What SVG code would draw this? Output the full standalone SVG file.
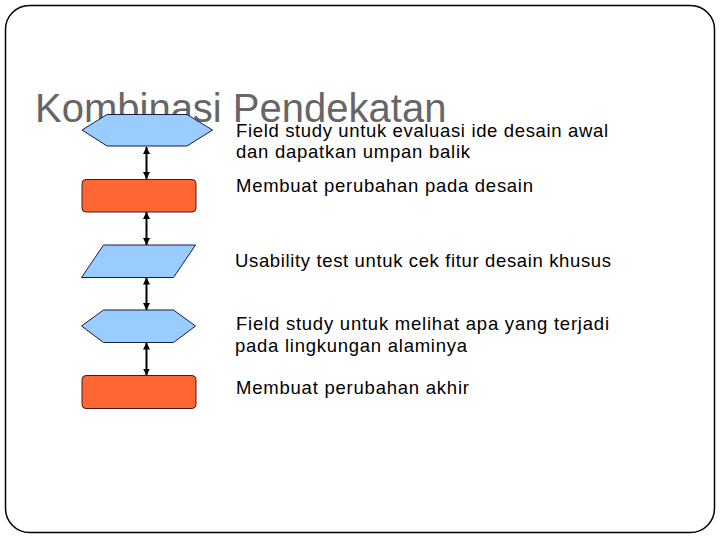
<svg xmlns="http://www.w3.org/2000/svg" width="720" height="540" viewBox="0 0 720 540">
<style>
.frame{fill:#fff;stroke:#000;stroke-width:1.5}
.title{font-family:"Liberation Sans",Arial,sans-serif;font-size:40px;fill:#666}
.lbl{font-family:"Liberation Sans",Arial,sans-serif;font-size:18.5px;fill:#000}
.blue{fill:#99CCFF;stroke:#1a1a40;stroke-width:1}
.orange{fill:#FF6633;stroke:#4a1a10;stroke-width:1}
.conn{stroke:#000;stroke-width:2;fill:none;marker-start:url(#ah);marker-end:url(#ah)}
</style>
<defs>
<marker id="ah" viewBox="0 0 10 10" refX="10" refY="5" markerWidth="3.5" markerHeight="3.5" orient="auto-start-reverse" markerUnits="strokeWidth">
<path d="M0,0 L10,5 L0,10 Z" fill="#000"/>
</marker>
</defs>
<rect class="frame" x="5.5" y="5.5" width="709" height="527" rx="24" ry="24"/>
<text class="title" x="35" y="122">Kombinasi Pendekatan</text>
<g id="connectors">
<line class="conn" x1="146.5" y1="147" x2="146.5" y2="179"/>
<line class="conn" x1="146.5" y1="212" x2="146.5" y2="245"/>
<line class="conn" x1="146.5" y1="277.5" x2="146.5" y2="310"/>
<line class="conn" x1="146.5" y1="342.5" x2="146.5" y2="375.5"/>
</g>
<g id="node1">
<polygon class="blue" points="82,130 107,114.5 187,114.5 212.5,130 187,146 107,146"/>
<text class="lbl" x="236" y="136.5" textLength="372" lengthAdjust="spacing">Field study untuk evaluasi ide desain awal</text>
<text class="lbl" x="236" y="158" textLength="234" lengthAdjust="spacing">dan dapatkan umpan balik</text>
</g>
<g id="node2">
<rect class="orange" x="82" y="179.5" width="114" height="32.5" rx="4"/>
<text class="lbl" x="236" y="191.5" textLength="297" lengthAdjust="spacing">Membuat perubahan pada desain</text>
</g>
<g id="node3">
<polygon class="blue" points="103.5,245 195.5,245 173.5,277.5 81.5,277.5"/>
<text class="lbl" x="235" y="266.5" textLength="376" lengthAdjust="spacing">Usability test untuk cek fitur desain khusus</text>
</g>
<g id="node4">
<polygon class="blue" points="81.5,326 103.5,310 173.5,310 195.5,326 173.5,342.5 103.5,342.5"/>
<text class="lbl" x="236" y="330" textLength="373" lengthAdjust="spacing">Field study  untuk melihat apa yang terjadi</text>
<text class="lbl" x="235" y="352" textLength="232" lengthAdjust="spacing">pada lingkungan alaminya</text>
</g>
<g id="node5">
<rect class="orange" x="82" y="375.5" width="114" height="33" rx="4"/>
<text class="lbl" x="236" y="394" textLength="233" lengthAdjust="spacing">Membuat perubahan akhir</text>
</g>
</svg>
